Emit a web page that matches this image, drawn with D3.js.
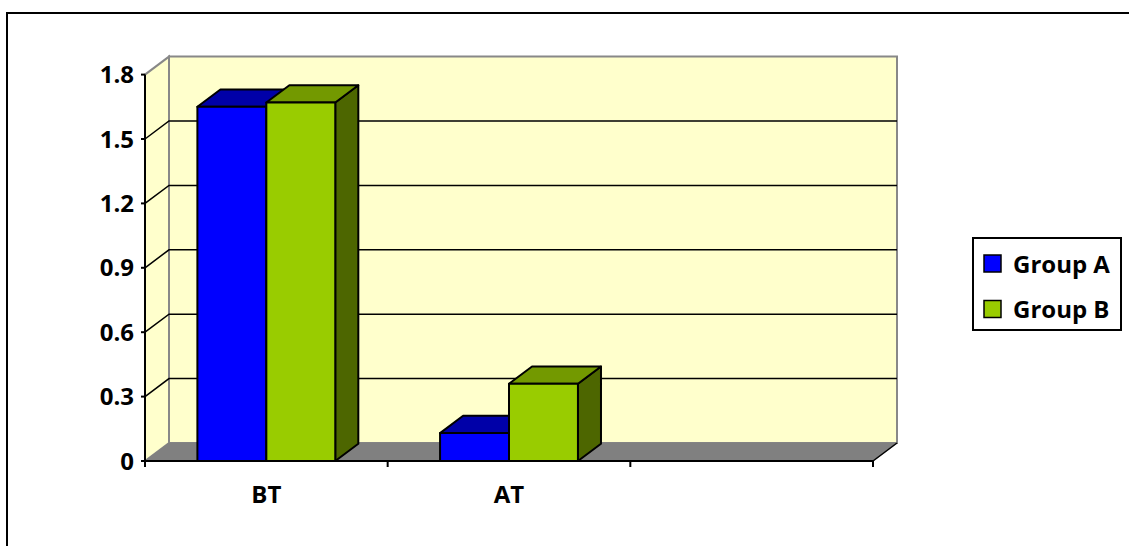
<!DOCTYPE html>
<html lang="en">
<head>
  <meta charset="UTF-8">
  <title>BT / AT 3D column chart</title>
  <script src="https://cdn.jsdelivr.net/npm/d3@7"></script>
  <style>
    body {
      margin: 0;
      background-color: #fff;
    }
    text {
      font-family: 'Open Sans', sans-serif;
      font-weight: 700;
      font-size: 24px;
      fill: #000;
    }
  </style>
</head>
<body>
  <div id="chart"></div>
  <script>
    const categories = ["BT", "AT", ""];
    const seriesNames = ["Group A", "Group B"];
    const groupA = [1.65, 0.13, null];
    const groupB = [1.67, 0.36, null];
    const yTicks = [0, 0.3, 0.6, 0.9, 1.2, 1.5, 1.8];

    const colors = {
      "Group A": { front: "#0000FF", top: "#0000A8", side: "#00006E" },
      "Group B": { front: "#99CC00", top: "#739900", side: "#4D6600" }
    };

    const w = 1129;
    const h = 546;
    const x0 = 145, x1 = 873;
    const yBase = 461, yTop = 74.6;
    // depth offset of the back wall
    const dx = 24, dy = 18;

    const svg = d3.select("#chart")
      .append("svg")
      .attr("width", w)
      .attr("height", h);

    // outer frame (runs off the right/bottom edge)
    svg.append("rect")
      .attr("x", 7).attr("y", 13)
      .attr("width", 1300).attr("height", 700)
      .attr("fill", "#fff")
      .attr("stroke", "#000")
      .attr("stroke-width", 2);

    const xScale = d3.scaleBand().domain(categories).range([x0, x1]);
    const yScale = d3.scaleLinear().domain([0, 1.8]).range([yBase, yTop]);
    const inner = d3.scaleBand()
      .domain(seriesNames)
      .range([0, xScale.bandwidth()])
      .paddingInner(0)
      .paddingOuter(0.76);

    const P = (x, v, z) => [x + z * dx, yScale(v) - z * dy];
    const poly = pts => pts.map(p => p.join(",")).join(" ");
    const vMax = 1.8;

    // back wall
    svg.append("polygon")
      .attr("points", poly([P(x0, 0, 1), P(x1, 0, 1), P(x1, vMax, 1), P(x0, vMax, 1)]))
      .attr("fill", "#FFFFCC")
      .attr("stroke", "#888")
      .attr("stroke-width", 2);

    // side wall
    svg.append("polygon")
      .attr("points", poly([P(x0, 0, 0), P(x0, 0, 1), P(x0, vMax, 1), P(x0, vMax, 0)]))
      .attr("fill", "#FFFFCC")
      .attr("stroke", "#888")
      .attr("stroke-width", 2);

    // floor
    svg.append("polygon")
      .attr("points", poly([P(x0, 0, 0), P(x1, 0, 0), P(x1, 0, 1), P(x0, 0, 1)]))
      .attr("fill", "#808080")
      .attr("stroke", "#808080")
      .attr("stroke-width", 1);
    svg.append("line")
      .attr("x1", P(x1, 0, 0)[0]).attr("y1", P(x1, 0, 0)[1])
      .attr("x2", P(x1, 0, 1)[0]).attr("y2", P(x1, 0, 1)[1])
      .attr("stroke", "#000")
      .attr("stroke-width", 1.5);

    // gridlines
    svg.selectAll(".grid")
      .data(yTicks.filter(t => t > 0 && t < vMax))
      .enter()
      .append("polyline")
      .attr("class", "grid")
      .attr("points", d => poly([P(x0, d, 0), P(x0, d, 1), P(x1, d, 1)]))
      .attr("fill", "none")
      .attr("stroke", "#000")
      .attr("stroke-width", 1.5);

    // bars
    const rows = [];
    categories.forEach((c, i) => {
      [groupA, groupB].forEach((arr, j) => {
        if (arr[i] != null) rows.push({ cat: c, series: seriesNames[j], value: arr[i] });
      });
    });

    const zf = 0, zb = 0.96;
    const bar = svg.selectAll(".bar")
      .data(rows)
      .enter()
      .append("g")
      .attr("class", "bar");

    const xl = d => xScale(d.cat) + inner(d.series);
    const xr = d => xl(d) + inner.bandwidth();

    bar.append("polygon")
      .attr("points", d => poly([P(xr(d), 0, zf), P(xr(d), 0, zb), P(xr(d), d.value, zb), P(xr(d), d.value, zf)]))
      .attr("fill", d => colors[d.series].side);
    bar.append("polygon")
      .attr("points", d => poly([P(xl(d), d.value, zf), P(xr(d), d.value, zf), P(xr(d), d.value, zb), P(xl(d), d.value, zb)]))
      .attr("fill", d => colors[d.series].top);
    bar.append("polygon")
      .attr("points", d => poly([P(xl(d), 0, zf), P(xr(d), 0, zf), P(xr(d), d.value, zf), P(xl(d), d.value, zf)]))
      .attr("fill", d => colors[d.series].front);
    bar.selectAll("polygon")
      .attr("stroke", "#000")
      .attr("stroke-width", 2)
      .attr("stroke-linejoin", "round");

    // y axis
    svg.append("line")
      .attr("x1", x0).attr("y1", yBase)
      .attr("x2", x0).attr("y2", yTop)
      .attr("stroke", "#000")
      .attr("stroke-width", 2);

    svg.selectAll(".ytick")
      .data(yTicks)
      .enter()
      .append("line")
      .attr("class", "ytick")
      .attr("x1", x0 - 4).attr("x2", x0)
      .attr("y1", d => yScale(d)).attr("y2", d => yScale(d))
      .attr("stroke", "#000")
      .attr("stroke-width", 2);

    svg.selectAll(".ylabel")
      .data(yTicks)
      .enter()
      .append("text")
      .attr("class", "ylabel")
      .attr("x", x0 - 11)
      .attr("y", d => yScale(d) + 8.5)
      .attr("text-anchor", "end")
      .text(d => d3.format("")(d));

    // x axis
    svg.append("line")
      .attr("x1", x0).attr("y1", yBase)
      .attr("x2", x1).attr("y2", yBase)
      .attr("stroke", "#000")
      .attr("stroke-width", 2);

    const bounds = categories.map(c => xScale(c)).concat([x1]);
    svg.selectAll(".xtick")
      .data(bounds)
      .enter()
      .append("line")
      .attr("class", "xtick")
      .attr("x1", d => d).attr("x2", d => d)
      .attr("y1", yBase).attr("y2", yBase + 6)
      .attr("stroke", "#000")
      .attr("stroke-width", 2);

    svg.selectAll(".xlabel")
      .data(categories)
      .enter()
      .append("text")
      .attr("class", "xlabel")
      .attr("x", d => xScale(d) + xScale.bandwidth() / 2)
      .attr("y", 503)
      .attr("text-anchor", "middle")
      .text(d => d);

    // legend
    const legend = svg.append("g").attr("class", "legend");
    legend.append("rect")
      .attr("x", 973).attr("y", 238)
      .attr("width", 148).attr("height", 92)
      .attr("fill", "#fff")
      .attr("stroke", "#000")
      .attr("stroke-width", 2);

    const item = legend.selectAll(".item")
      .data(seriesNames)
      .enter()
      .append("g")
      .attr("class", "item")
      .attr("transform", (d, i) => "translate(984," + (255 + i * 45.5) + ")");

    item.append("rect")
      .attr("width", 17).attr("height", 17)
      .attr("fill", d => colors[d].front)
      .attr("stroke", "#000")
      .attr("stroke-width", 1.5);

    item.append("text")
      .attr("x", 29)
      .attr("y", 17.5)
      .text(d => d);
  </script>
</body>
</html>
